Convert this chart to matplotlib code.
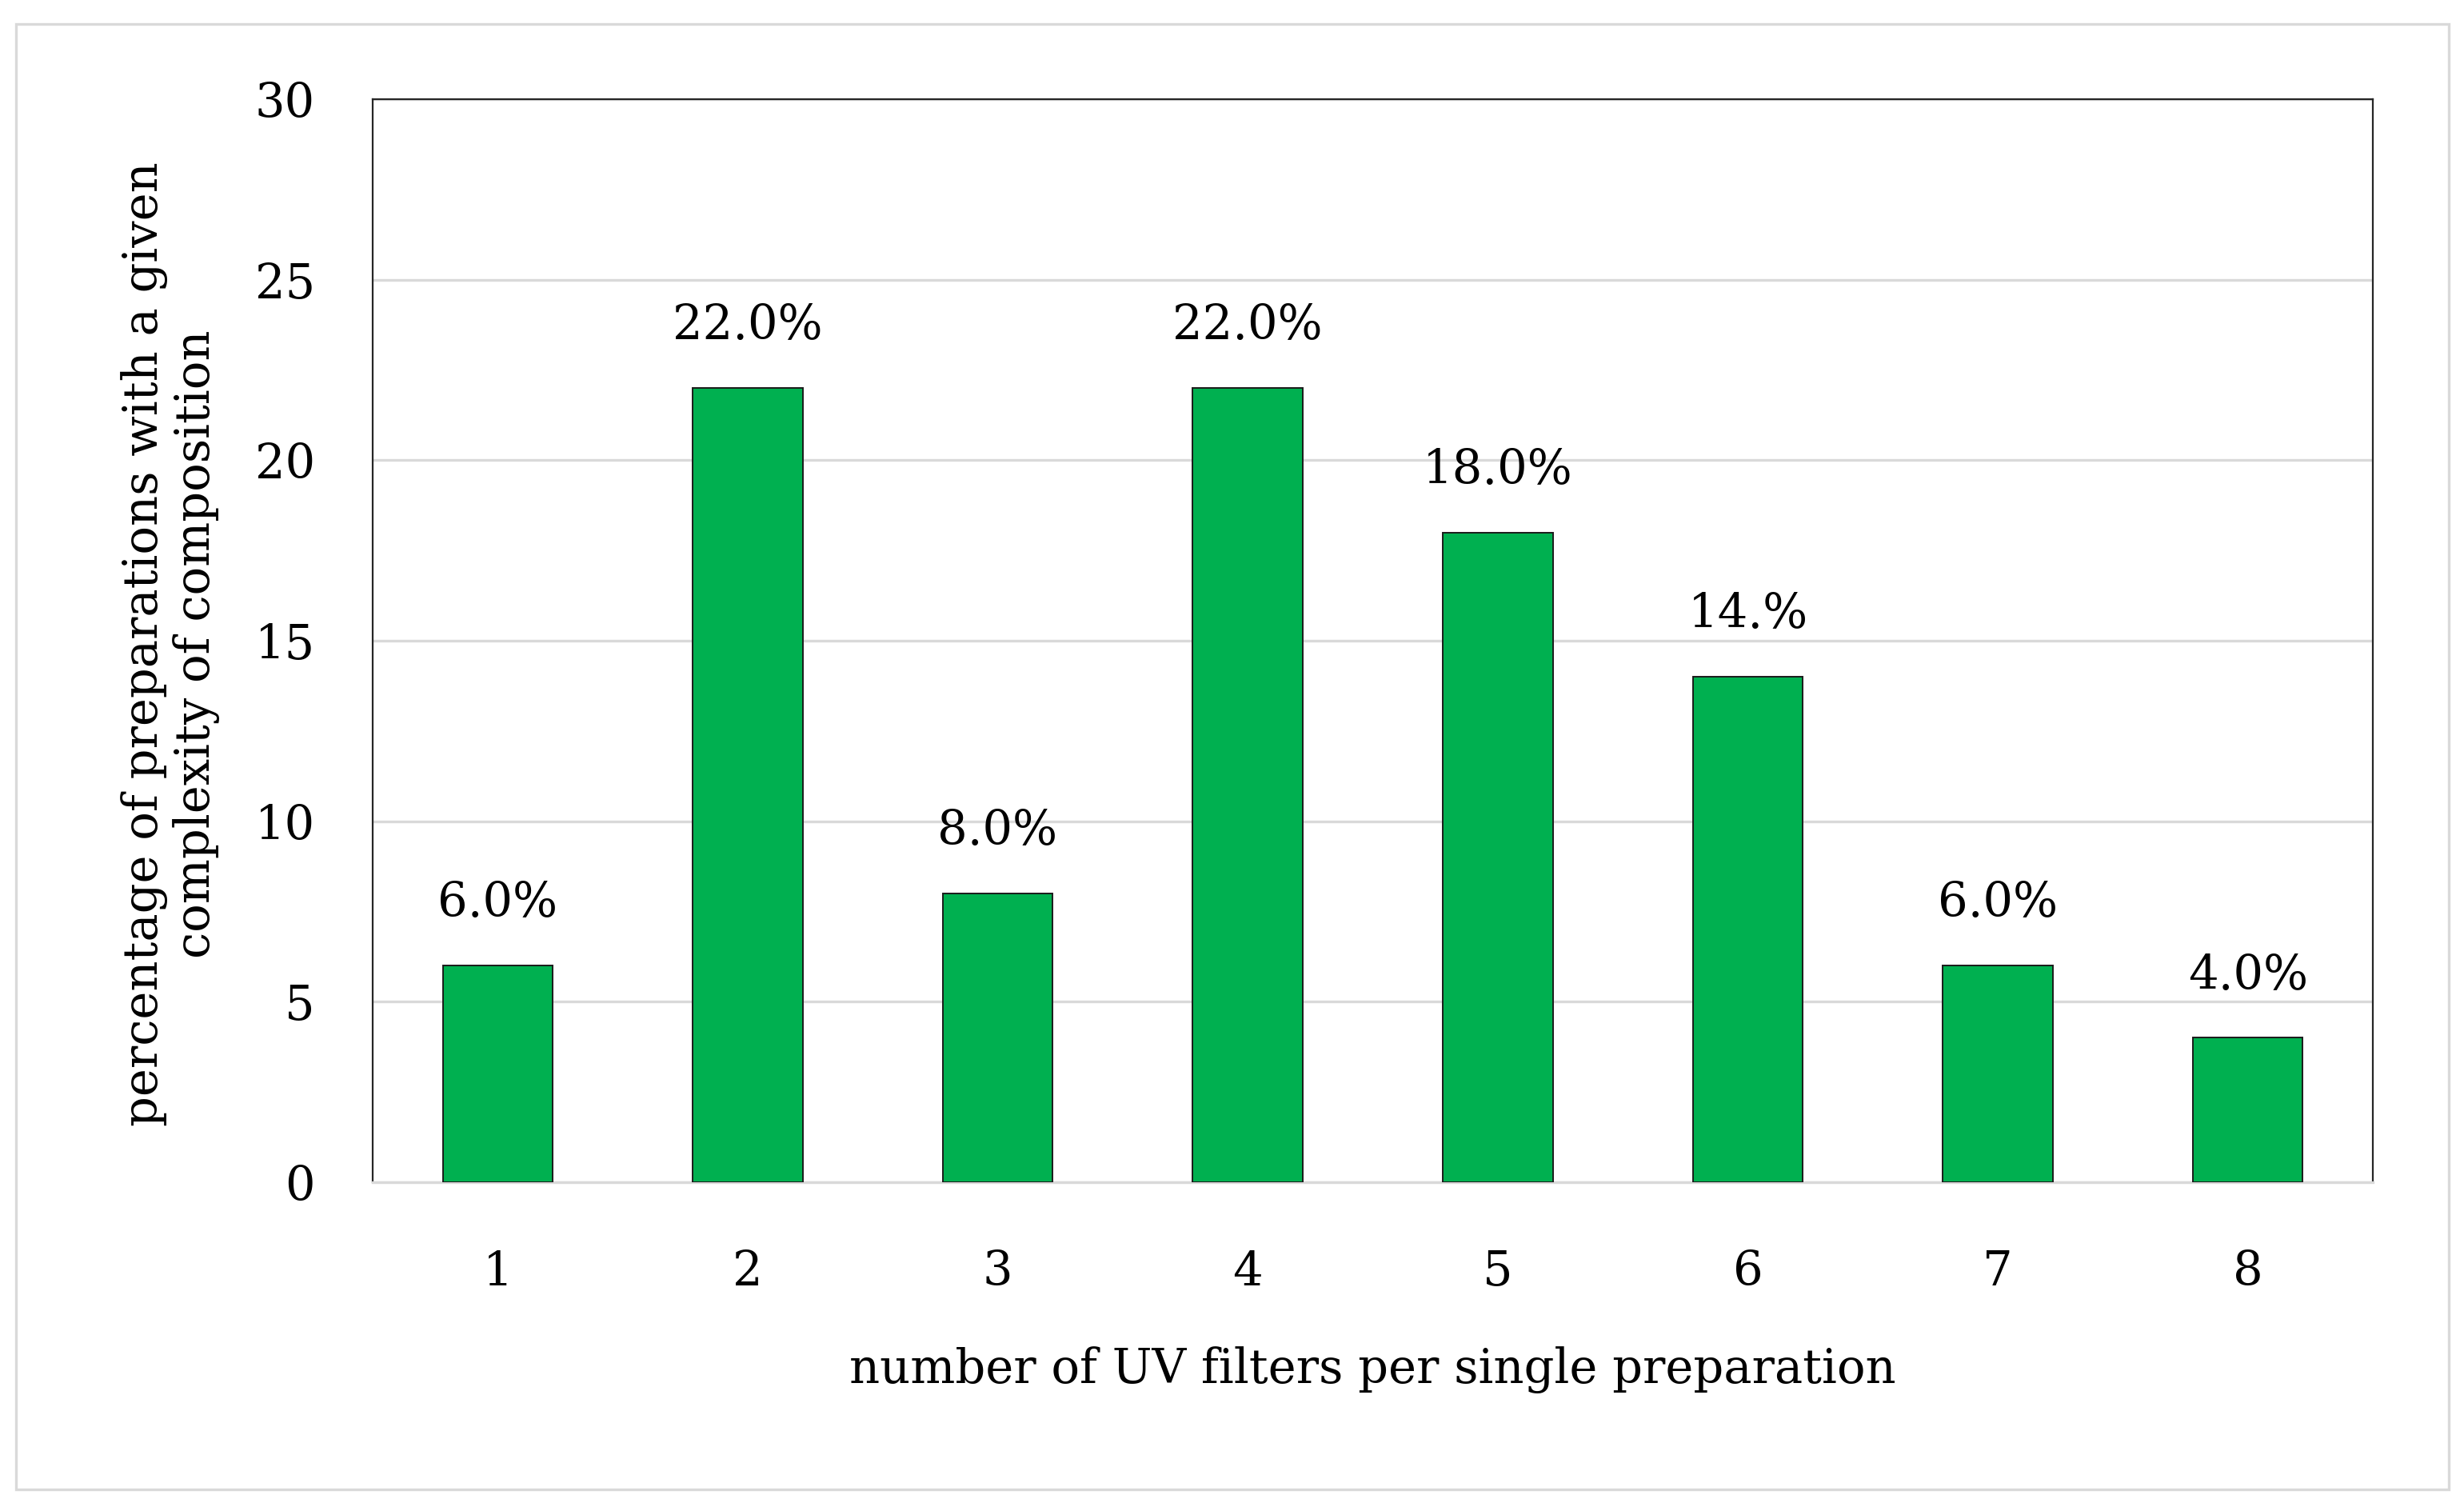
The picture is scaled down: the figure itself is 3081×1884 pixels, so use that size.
import matplotlib
matplotlib.use("Agg")
import matplotlib.pyplot as plt
from matplotlib.patches import Rectangle

categories = ["1", "2", "3", "4", "5", "6", "7", "8"]
values = [6.0, 22.0, 8.0, 22.0, 18.0, 14.0, 6.0, 4.0]
value_labels = ["6.0%", "22.0%", "8.0%", "22.0%", "18.0%", "14.%", "6.0%", "4.0%"]
y_ticks = [0, 5, 10, 15, 20, 25, 30]

W, H, DPI = 3081, 1884, 200
plt.rcParams['font.family'] = ['DejaVu Serif']
fs = 21.3

fig = plt.figure(figsize=(W / DPI, H / DPI), dpi=DPI)
fig.patch.set_facecolor("white")

# outer frame
fig.patches.append(Rectangle((20 / W, 1 - 1862 / H), (3062 - 20) / W, (1862 - 30) / H,
                             transform=fig.transFigure, fill=False,
                             edgecolor="#d9d9d9", linewidth=1.2))

ax = fig.add_axes([466 / W, 1 - 1478 / H, (2967 - 466) / W, (1478 - 124) / H])
x = list(range(len(categories)))
bars = ax.bar(x, values, width=0.44, color="#00b050", edgecolor="#1a1a1a",
              linewidth=0.7, zorder=3)

ax.set_xlim(-0.5, len(categories) - 0.5)
ax.set_ylim(0, 30)
ax.set_yticks(y_ticks)
ax.set_xticks(x)
ax.set_xticklabels(categories)
ax.tick_params(axis='both', length=0, labelsize=fs)
ax.tick_params(axis='x', pad=30)
ax.tick_params(axis='y', pad=26)
ax.yaxis.grid(True, color="#d9d9d9", linewidth=1.2, zorder=0)
ax.set_axisbelow(True)

for s in ["left", "top", "right"]:
    ax.spines[s].set_color("#262626")
    ax.spines[s].set_linewidth(0.8)
ax.spines["bottom"].set_color("#d9d9d9")
ax.spines["bottom"].set_linewidth(1.2)

for xi, v, lab in zip(x, values, value_labels):
    ax.annotate(lab, (xi, v), xytext=(0, 28), textcoords="offset points",
                ha="center", va="center", fontsize=fs)

fig.text((466 + 2967) / 2 / W, 1 - 1713 / H, "number of UV filters per single preparation",
         ha="center", va="center", fontsize=fs)
fig.text(213 / W, 1 - 805 / H,
         "percentage of preparations with a given\ncomplexity of composition",
         ha="center", va="center", rotation=90, fontsize=fs, linespacing=1.15)

fig.savefig("out.png", dpi=DPI, facecolor="white")
